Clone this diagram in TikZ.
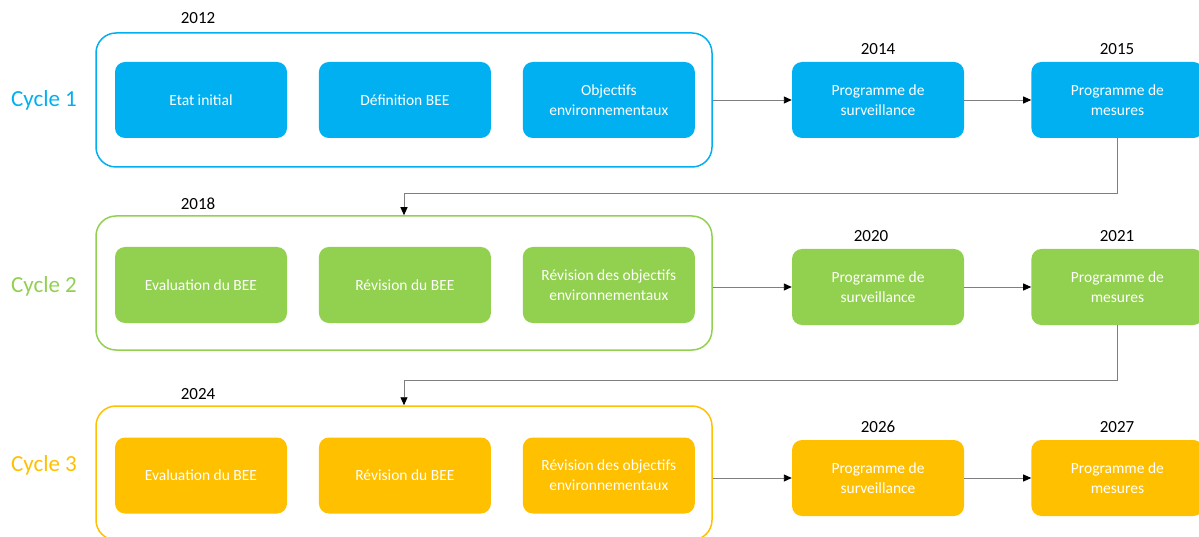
\documentclass[tikz,border=0pt]{standalone}
\usepackage{fontspec}
\setmainfont{Carlito}
\usetikzlibrary{positioning,arrows.meta}
\definecolor{CycleBlue}{HTML}{00B0F0}
\definecolor{CycleGreen}{HTML}{92D050}
\definecolor{CycleOrange}{HTML}{FFC000}
\definecolor{LinkGray}{HTML}{7F7F7F}

\begin{document}
\begin{tikzpicture}[
      x=1pt, y=-1pt,
      node distance=31.5pt,
      every node/.style={align=center},
      box/.style={fill=#1, text=white, rounded corners=10pt, minimum width=172pt, minimum height=76pt, inner sep=2pt, font=\fontsize{15.5}{20}\selectfont},
      frame/.style={draw=#1, line width=1.5pt, rounded corners=20pt, minimum width=616pt, minimum height=134pt},
      cycle/.style={text=#1, font=\fontsize{23}{27}\selectfont},
      year/.style={font=\fontsize{17}{20}\selectfont},
      arrow/.style={LinkGray, line width=0.9pt, -{Triangle[length=8pt,width=7pt,black]}}
    ]
      \useasboundingbox (0,0) rectangle (1199,537);

      % Cycle 1
      \node[cycle=CycleBlue] (cyc1) at (44,100) {Cycle 1};
      \node[frame=CycleBlue] (c1frame) at (404,100) {};
      \node[box=CycleBlue] (c1etat) at (201,100) {Etat initial};
      \node[box=CycleBlue, right=of c1etat] (c1def) {Définition BEE};
      \node[box=CycleBlue, right=of c1def] (c1obj) {Objectifs\\environnementaux};
      \node[box=CycleBlue] (c1surv) at (878,100) {Programme de\\surveillance};
      \node[box=CycleBlue, right=67pt of c1surv] (c1mes) {Programme de\\mesures};
      \node[year] (y2012) at (198,18) {2012};
      \node[year] (y2014) at (878,49) {2014};
      \node[year] (y2015) at (1117,49) {2015};

      % Cycle 2
      \node[cycle=CycleGreen] (cyc2) at (44,286) {Cycle 2};
      \node[frame=CycleGreen] (c2frame) at (404,283) {};
      \node[box=CycleGreen] (c2eval) at (201,285) {Evaluation du BEE};
      \node[box=CycleGreen, right=of c2eval] (c2rev) {Révision du BEE};
      \node[box=CycleGreen, right=of c2rev] (c2obj) {Révision des objectifs\\environnementaux};
      \node[box=CycleGreen] (c2surv) at (878,287) {Programme de\\surveillance};
      \node[box=CycleGreen, right=67pt of c2surv] (c2mes) {Programme de\\mesures};
      \node[year] (y2018) at (198,204) {2018};
      \node[year] (y2020) at (871,236) {2020};
      \node[year] (y2021) at (1117,236) {2021};

      % Cycle 3
      \node[cycle=CycleOrange] (cyc3) at (44,465) {Cycle 3};
      \node[frame=CycleOrange] (c3frame) at (404,473) {};
      \node[box=CycleOrange] (c3eval) at (201,475.5) {Evaluation du BEE};
      \node[box=CycleOrange, right=of c3eval] (c3rev) {Révision du BEE};
      \node[box=CycleOrange, right=of c3rev] (c3obj) {Révision des objectifs\\environnementaux};
      \node[box=CycleOrange] (c3surv) at (878,478) {Programme de\\surveillance};
      \node[box=CycleOrange, right=67pt of c3surv] (c3mes) {Programme de\\mesures};
      \node[year] (y2024) at (198,394) {2024};
      \node[year] (y2026) at (878,427) {2026};
      \node[year] (y2027) at (1117,427) {2027};

      % Arrows
      \draw[arrow] (c1frame.east |- c1surv.west) -- (c1surv.west);
      \draw[arrow] (c1surv) -- (c1mes);
      \draw[arrow] (c2frame.east |- c2surv.west) -- (c2surv.west);
      \draw[arrow] (c2surv) -- (c2mes);
      \draw[arrow] (c3frame.east |- c3surv.west) -- (c3surv.west);
      \draw[arrow] (c3surv) -- (c3mes);

      % From one cycle to the next
      \draw[arrow] (c1mes.south) -- ++(0,55) -| (c2frame.north);
      \draw[arrow] (c2mes.south) -- ++(0,55) -| (c3frame.north);

    \end{tikzpicture}
\end{document}
